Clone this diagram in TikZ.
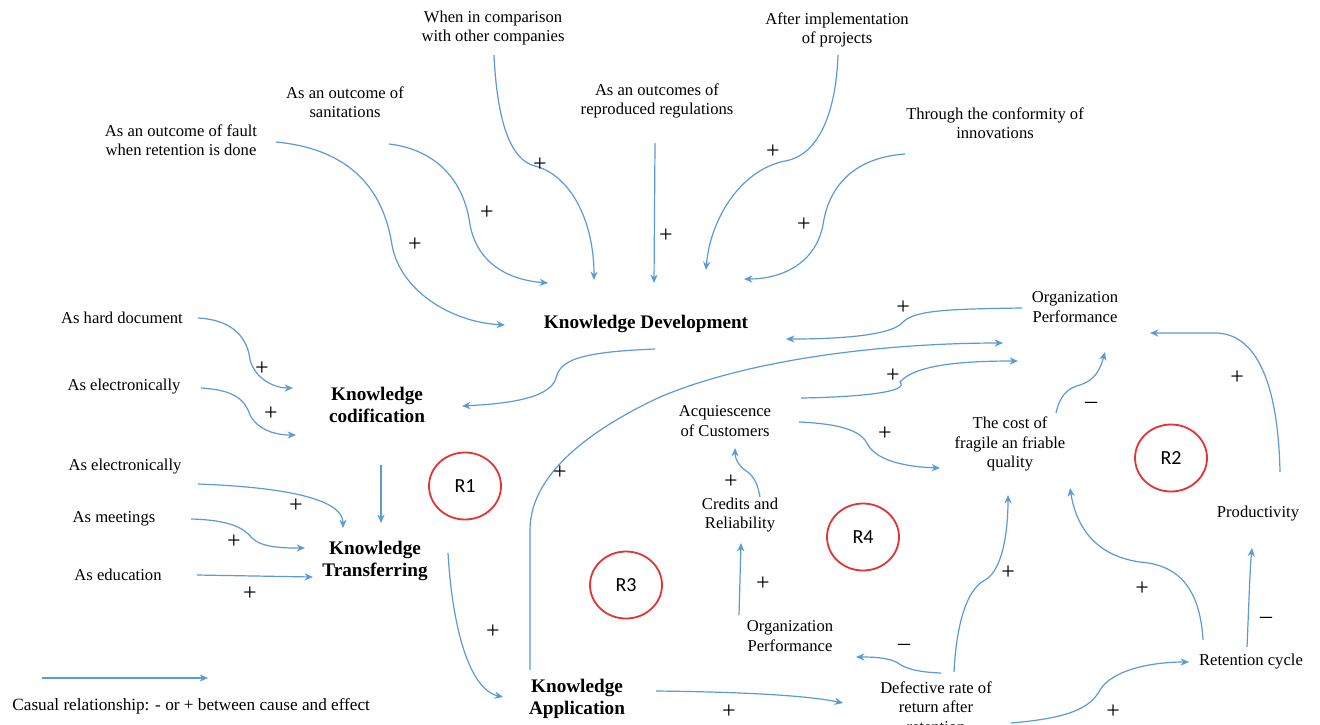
\documentclass[tikz,border=0pt]{standalone}
\usepackage{fontspec}
\setmainfont{Liberation Serif}
\newfontfamily\rfont{Carlito}
\usetikzlibrary{arrows.meta,calc,shapes.geometric}
\definecolor{cblue}{RGB}{91,155,213}
\definecolor{cred}{RGB}{226,52,52}
\tikzset{
  lbl/.style={align=center,inner sep=1pt,font=\fontsize{8.3}{9.75}\selectfont},
  bold/.style={align=center,inner sep=1pt,font=\fontsize{9.6}{11.2}\selectfont\bfseries},
  sgn/.style={inner sep=0pt,font=\fontsize{12}{12}\selectfont},
  arr/.style={draw=cblue,line width=0.6pt,-{Stealth[length=4.2pt,width=3.6pt]}},
  loopc/.style={draw=cred,line width=0.9pt,ellipse,minimum width=36pt,minimum height=33.5pt,inner sep=0pt,font=\rfont\fontsize{10}{12}\selectfont}
}
\begin{document}
\begin{tikzpicture}[x=0.5pt,y=-0.5pt]
\clip (0,0) rectangle (1320,724);
\fill[white] (0,0) rectangle (1320,724);
% nodes
\node[lbl] (cmp) at (493,28) {When in comparison\\with other companies};
\node[lbl] (impl) at (837,30) {After implementation\\of projects};
\node[lbl] (san) at (345,102) {As an outcome of\\sanitations};
\node[lbl] (reg) at (657,101) {As an outcomes of\\reproduced regulations};
\node[lbl] (fault) at (181,140) {As an outcome of fault\\when retention is done};
\node[lbl] (conf) at (995,123) {Through the conformity of\\innovations};
\node[bold] (kd) at (646,324) {Knowledge Development};
\node[lbl] (opt) at (1075,307) {Organization\\Performance};
\node[lbl] (hard) at (122,318) {As hard document};
\node[lbl] (el1) at (124,387) {As electronically};
\node[bold] (kc) at (377,405) {Knowledge\\codification};
\node[lbl] (acq) at (725,421) {Acquiescence\\of Customers};
\node[lbl] (cost) at (1010,444) {The cost of\\fragile an friable\\quality};
\node[lbl] (el2) at (125,467) {As electronically};
\node[loopc] (r1) at (465,486) {R1};
\node[loopc] (r2) at (1171,458) {R2};
\node[lbl] (cred) at (740,515) {Credits and\\Reliability};
\node[lbl] (prod) at (1258,514) {Productivity};
\node[lbl] (meet) at (114,519) {As meetings};
\node[loopc] (r4) at (863,537) {R4};
\node[bold] (kt) at (375,561) {Knowledge\\Transferring};
\node[lbl] (edu) at (118,575) {As education};
\node[loopc] (r3) at (626,585) {R3};
\node[lbl] (opl) at (790,636) {Organization\\Performance};
\node[lbl] (ret) at (1251,662) {Retention cycle};
\node[lbl] (def) at (936,707) {Defective rate of\\return after\\retention};
\node[bold] (ka) at (577,699) {Knowledge\\Application};
\node[lbl,anchor=west,font=\fontsize{8.6}{10}\selectfont] (leg) at (10,706) {Casual relationship: - or + between cause and effect};
\coordinate (legA) at (42,678);
\coordinate (legB) at (208,678);
\draw[arr] (legA) -- (legB);
% top inputs to Knowledge Development
\draw[arr] ($(fault)+(95,2)$) .. controls +(84,8) and +(-7,-45) .. ($(kd)+(-254,-79)$) .. controls +(8,45) and +(-55,-3) .. ($(kd)+(-141,1)$);
\node[sgn] (p1) at (415,245) {+};
\draw[arr] ($(san)+(44,42)$) .. controls +(51,6) and +(-5,-40) .. ($(kd)+(-176,-99)$) .. controls +(8,40) and +(-38,-3) .. ($(kd)+(-98,-41)$);
\node[sgn] (p2) at (487,213) {+};
\draw[arr] ($(cmp)+(1,27)$) .. controls +(3,65) and +(-25,-6) .. ($(kd)+(-111,-158)$) .. controls +(35,9) and +(0,-60) .. ($(kd)+(-52,-44)$);
\node[sgn] (p3) at (540,165) {+};
\draw[arr] ($(reg)+(-2,42)$) -- ($(kd)+(8,-41)$);
\node[sgn] (p4) at (666,236) {+};
\draw[arr] ($(impl)+(1,25)$) .. controls +(-2,55) and +(35,-6) .. ($(kd)+(139,-163)$) .. controls +(-45,9) and +(4,-50) .. ($(kd)+(60,-54)$);
\node[sgn] (p5) at (773,152) {+};
\draw[arr] ($(conf)+(-90,31)$) .. controls +(-55,4) and +(5,-35) .. ($(kd)+(177,-99)$) .. controls +(-8,40) and +(36,0) .. ($(kd)+(98,-45)$);
\node[sgn] (p6) at (804,225) {+};
% Org performance -> KD
\draw[arr] ($(opt)+(-53,1)$) .. controls +(-72,1) and +(12,-12) .. ($(kd)+(257,-2)$) .. controls +(-13,16) and +(34,0) .. ($(kd)+(140,15)$);
\node[sgn] (p7) at (903,308) {+};
% KD -> KC
\draw[arr] ($(kd)+(9,25)$) .. controls +(-75,3) and +(4,-18) .. ($(kd)+(-90,54)$) .. controls +(-6,22) and +(38,-2) .. ($(kc)+(85,1)$);
% left inputs to KC
\draw[arr] ($(hard)+(76,0)$) .. controls +(37,2) and +(-2,-20) .. ($(kc)+(-127,-45)$) .. controls +(6,20) and +(-18,0) .. ($(kc)+(-84,-17)$);
\node[sgn] (p8) at (262,369) {+};
\draw[arr] ($(el1)+(77,1)$) .. controls +(34,2) and +(-5,-15) .. ($(kc)+(-127,10)$) .. controls +(8,15) and +(-21,0) .. ($(kc)+(-81,30)$);
\node[sgn] (p9) at (271,414) {+};
% KC -> KT
\draw[arr] ($(kc)+(4,60)$) -- ($(kt)+(6,-38)$);
% left inputs to KT
\draw[arr] ($(el2)+(73,17)$) .. controls +(105,4) and +(0,-25) .. ($(kt)+(-32,-33)$);
\node[sgn] (p10) at (296,506) {+};
\draw[arr] ($(meet)+(77,0)$) .. controls +(39,1) and +(-8,-10) .. ($(kt)+(-123,-23)$) .. controls +(10,10) and +(-20,0) .. ($(kt)+(-70,-13)$);
\node[sgn] (p11) at (234,542) {+};
\draw[arr] ($(edu)+(79,0)$) -- ($(kt)+(-62,16)$);
\node[sgn] (p12) at (250,594) {+};
% KT -> KA
\draw[arr] ($(kt)+(73,-8)$) .. controls +(4,70) and +(-35,-8) .. ($(ka)+(-74,-2)$);
\node[sgn] (p13) at (493,632) {+};
% KA -> Org performance (top)
\draw[arr] ($(ka)+(-47,-29)$) -- ($(ka)+(-47,-169)$) .. controls +(0,-60) and +(-60,28) .. ($(kd)+(14,73)$) .. controls +(100,-42) and +(-100,0) .. ($(opt)+(-72,36)$);
\node[sgn] (p14) at (560,473) {+};
% KA -> Defective
\draw[arr] ($(ka)+(79,-8)$) .. controls +(95,1) and +(-33,-7) .. ($(def)+(-93,-4)$);
\node[sgn] (p15) at (729,712) {+};
% Acquiescence -> Org perf top
\draw[arr] ($(acq)+(76,-23)$) .. controls +(59,-1) and +(10,10) .. ($(acq)+(175,-39)$) .. controls +(15,-17) and +(-58,0) .. ($(opt)+(-57,54)$);
\node[sgn] (p16) at (893,376) {+};
% Acquiescence -> cost
\draw[arr] ($(acq)+(74,1)$) .. controls +(46,2) and +(-6,-13) .. ($(acq)+(143,24)$) .. controls +(10,17) and +(-30,-1) .. ($(cost)+(-70,24)$);
\node[sgn] (p17) at (885,434) {+};
% cost -> Org perf top
\draw[arr] ($(cost)+(46,-31)$) .. controls +(4,-18) and +(-12,3) .. ($(cost)+(70,-59)$) .. controls +(15,-5) and +(-5,18) .. ($(opt)+(30,45)$);
\node[sgn] (p18) at (1091,405) {--};
% Productivity -> Org perf top
\draw[arr] ($(prod)+(22,-42)$) .. controls +(-2,-92) and +(40,0) .. ($(opt)+(140,26)$) -- ($(opt)+(75,26)$);
\node[sgn] (p19) at (1237,378) {+};
% Credits -> Acquiescence
\draw[arr] ($(cred)+(20,-18)$) .. controls +(-3,-17) and +(7,5) .. ($(cred)+(5,-45)$) .. controls +(-7,-5) and +(0,10) .. ($(acq)+(10,27)$);
\node[sgn] (p20) at (731,482) {+};
% Org perf lower -> Credits
\draw[arr] ($(opl)+(-51,-21)$) -- ($(cred)+(1,28)$);
\node[sgn] (p21) at (763,584) {+};
% Defective -> Org perf lower
\draw[arr] ($(def)+(5,-34)$) .. controls +(-26,-1) and +(7,5) .. ($(def)+(-38,-44)$) .. controls +(-10,-6) and +(14,0) .. ($(opl)+(66,21)$);
\node[sgn] (p22) at (904,647) {--};
% Defective -> cost
\draw[arr] ($(def)+(18,-35)$) .. controls +(2,-42) and +(-20,10) .. ($(def)+(49,-127)$) .. controls +(18,-10) and +(0,35) .. ($(cost)+(-2,51)$);
\node[sgn] (p23) at (1008,573) {+};
% Defective -> Retention
\draw[arr] ($(def)+(75,16)$) .. controls +(59,-5) and +(-10,18) .. ($(def)+(164,-17)$) .. controls +(12,-20) and +(-38,0) .. ($(ret)+(-62,0)$);
\node[sgn] (p24) at (1113,712) {+};
% Retention -> cost
\draw[arr] ($(ret)+(-48,-22)$) .. controls +(-3,-50) and +(40,3) .. ($(ret)+(-111,-100)$) .. controls +(-50,-7) and +(5,32) .. ($(cost)+(60,44)$);
\node[sgn] (p25) at (1142,589) {+};
% Retention -> Productivity
\draw[arr] ($(ret)+(-4,-15)$) .. controls +(2,-47) and +(-2,20) .. ($(prod)+(-6,34)$);
\node[sgn] (p26) at (1266,620) {--};
\end{tikzpicture}
\end{document}
